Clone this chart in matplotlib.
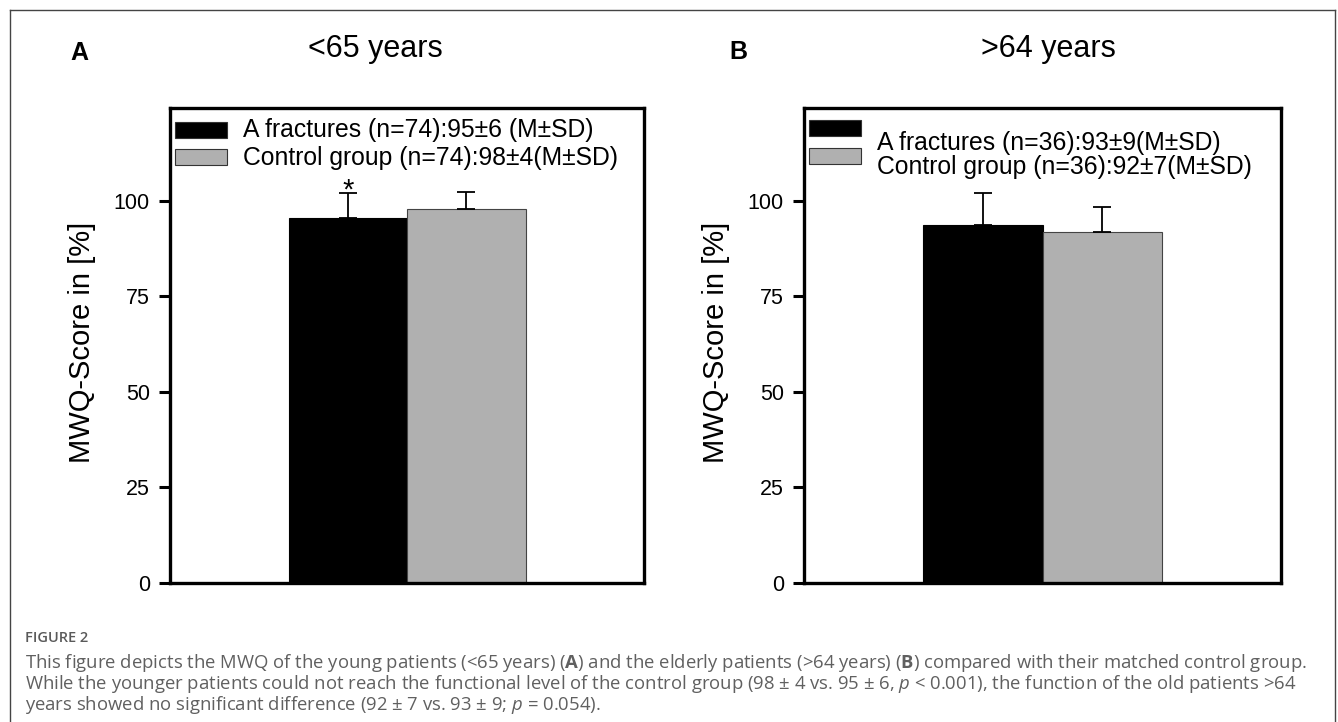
import matplotlib
matplotlib.use("Agg")
import matplotlib.pyplot as plt
from matplotlib.patches import Rectangle
from matplotlib.lines import Line2D

plt.rcParams['font.family'] = ['Liberation Sans', 'DejaVu Sans']
plt.rcParams['mathtext.fontset'] = 'custom'
plt.rcParams['mathtext.it'] = 'Open Sans:italic'
plt.rcParams['mathtext.rm'] = 'Open Sans'
plt.rcParams['mathtext.bf'] = 'Open Sans:bold'

# data
groups = ["A fractures", "Control group"]
titles = ["<65 years", ">64 years"]
panel_letters = ["A", "B"]
means_young = [95.6, 97.8]
sd_young = [6.4, 4.4]
means_old = [93.6, 91.8]
sd_old = [8.4, 6.7]
legend_young = ["A fractures (n=74):95±6 (M±SD)", "Control group (n=74):98±4(M±SD)"]
legend_old = ["A fractures (n=36):93±9(M±SD)", "Control group (n=36):92±7(M±SD)"]
yticks = [0, 25, 50, 75, 100]
colors = ["#000000", "#b0b0b0"]

W, H = 1338, 722
fig = plt.figure(figsize=(W / 100, H / 100), dpi=100)


def px_ax(ax, x, y):
    # pixel offset from axes top-left -> axes fraction
    bb = ax.get_position()
    return x / (bb.width * W), 1 - y / (bb.height * H)


def draw_panel(ax, means, sds, labels, key_top, key_step, text_base, text_step, text_x, star):
    x = [-0.5, 0.5]
    ax.bar(x, means, width=1.0, color=colors, edgecolor=["#000000", "#444444"], linewidth=0.8,
           yerr=[[0, 0], sds], capsize=6.5, error_kw=dict(ecolor="black", elinewidth=1.3, capthick=1.3))
    if star:
        ax.text(x[0], means[0] + sds[0] - 1.5, "*", ha="center", va="baseline", fontsize=21)
    ax.set_xlim(-2, 2)
    ax.set_ylim(0, 124.3)
    ax.set_xticks([])
    ax.set_yticks(yticks)
    ax.tick_params(axis="y", direction="out", length=8, width=2.2, labelsize=15.5, pad=6.5)
    for s in ax.spines.values():
        s.set_linewidth(2.4)
    ax.set_ylabel("MWQ-Score in [%]", fontsize=21)
    ax.yaxis.set_label_coords(-0.156, 0.507)

    # legend keys
    bb = ax.get_position()
    kw, kh = 52 / (bb.width * W), 16 / (bb.height * H)
    for i, lab in enumerate(labels):
        kx, ky = px_ax(ax, 5, key_top + i * key_step)
        ax.add_patch(Rectangle((kx, ky - kh), kw, kh, transform=ax.transAxes, facecolor=colors[i],
                               edgecolor="#333333", linewidth=0.8, clip_on=False))
        tx, ty = px_ax(ax, text_x, text_base + i * text_step)
        ax.text(tx, ty, lab, transform=ax.transAxes, ha="left", va="baseline", fontsize=17.8)


axA = fig.add_axes([170 / W, 1 - 583 / H, 474 / W, 475 / H])
axB = fig.add_axes([804 / W, 1 - 583 / H, 477 / W, 475 / H])

draw_panel(axA, means_young, sd_young, legend_young, 14, 27, 29, 28, 73, True)
draw_panel(axB, means_old, sd_old, legend_old, 12, 28, 42, 24, 73, False)

fig.text(375 / W, 1 - 57 / H, titles[0], ha="center", va="baseline", fontsize=22)
fig.text(1048 / W, 1 - 57 / H, titles[1], ha="center", va="baseline", fontsize=22)
fig.text(79 / W, 1 - 60 / H, panel_letters[0], ha="center", va="baseline", fontsize=18, fontweight="bold")
fig.text(738 / W, 1 - 59 / H, panel_letters[1], ha="center", va="baseline", fontsize=18, fontweight="bold")

# outer frame (open at bottom)
fc = "#444444"
fig.add_artist(Line2D([9.5 / W, 9.5 / W], [0, 1 - 10 / H], color=fc, lw=1))
fig.add_artist(Line2D([9.5 / W, 1335 / W], [1 - 10 / H, 1 - 10 / H], color=fc, lw=1))
fig.add_artist(Line2D([1335 / W, 1335 / W], [0, 1 - 10 / H], color=fc, lw=1))

# caption
cap_font = ['Open Sans', 'DejaVu Sans']
fig.text(25 / W, 1 - 642 / H, "FIGURE 2", ha="left", va="baseline", fontsize=10.5, fontweight="semibold",
         color="#5a5a5a", family=cap_font)
caption = [
    r"This figure depicts the MWQ of the young patients (<65 years) ($\mathbf{A}$) and the elderly patients (>64 years) ($\mathbf{B}$) compared with their matched control group.",
    r"While the younger patients could not reach the functional level of the control group (98 ± 4 vs. 95 ± 6, $p$ < 0.001), the function of the old patients >64",
    r"years showed no significant difference (92 ± 7 vs. 93 ± 9; $p$ = 0.054).",
]
fig.text(25 / W, 1 - 652 / H, "\n".join(caption), ha="left", va="top", fontsize=13.3,
         linespacing=0.94, color="#606060", family=cap_font)

fig.savefig("out.png", dpi=100)
